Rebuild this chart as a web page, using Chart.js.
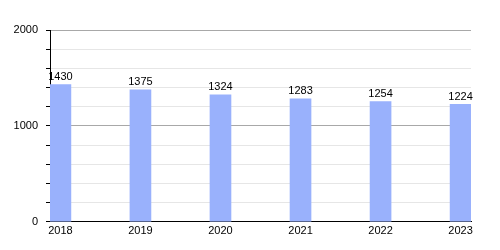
<!DOCTYPE html>
<html>
<head>
<meta charset="utf-8">
<script src="https://cdn.jsdelivr.net/npm/chart.js@4.4.0/dist/chart.umd.min.js"></script>
<style>
  html, body { margin: 0; padding: 0; background: #fff; }
  #wrap { width: 500px; height: 250px; }
</style>
</head>
<body>
<div id="wrap"><canvas id="chart"></canvas></div>
<script>
const years = [2018, 2019, 2020, 2021, 2022, 2023];
const values = [1430, 1375, 1324, 1283, 1254, 1224];
const yLabels = [0, 1000, 2000];

// labels above each bar
const valueLabels = {
  id: 'valueLabels',
  afterDatasetsDraw(chart) {
    const ctx = chart.ctx;
    const meta = chart.getDatasetMeta(0);
    ctx.save();
    ctx.font = '11px "Liberation Sans", Arial, sans-serif';
    ctx.fillStyle = '#000';
    ctx.textAlign = 'center';
    ctx.textBaseline = 'bottom';
    meta.data.forEach((bar, i) => {
      ctx.fillText(String(values[i]), bar.x, bar.y - 2);
    });
    ctx.restore();
  }
};

new Chart(document.getElementById('chart').getContext('2d'), {
  type: 'bar',
  data: {
    datasets: [{
      data: years.map((y, i) => ({x: y, y: values[i]})),
      backgroundColor: '#99b1fc',
      borderWidth: 0,
      barThickness: 21
    }]
  },
  options: {
    responsive: true,
    maintainAspectRatio: false,
    animation: false,
    layout: {padding: {top: 30, right: 29, left: 0, bottom: 9}},
    plugins: {legend: {display: false}, tooltip: {enabled: false}},
    scales: {
      x: {
        type: 'linear',
        offset: false,
        min: years[0] - 0.13,
        max: years[years.length - 1] + 0.13,
        grid: {display: false, drawTicks: false},
        border: {color: '#000', width: 1},
        ticks: {
          stepSize: 1,
          includeBounds: false,
          autoSkip: false,
          maxRotation: 0,
          padding: 3,
          color: '#000',
          font: {family: '"Liberation Sans", Arial, sans-serif', size: 11},
          callback: v => Number.isInteger(v) ? String(v) : ''
        }
      },
      y: {
        min: 0,
        max: 2000,
        afterFit: s => { s.width = 50; },
        grid: {
          color: c => (c.tick.value % 1000 === 0 ? '#a8a8a8' : '#e6e6e6'),
          tickColor: '#000',
          tickLength: 4
        },
        border: {color: '#000', width: 1},
        ticks: {
          stepSize: 200,
          autoSkip: false,
          padding: 8,
          color: '#000',
          font: {family: '"Liberation Sans", Arial, sans-serif', size: 11},
          callback: v => (yLabels.includes(v) ? String(v) : '')
        }
      }
    }
  },
  plugins: [valueLabels]
});
</script>
</body>
</html>
